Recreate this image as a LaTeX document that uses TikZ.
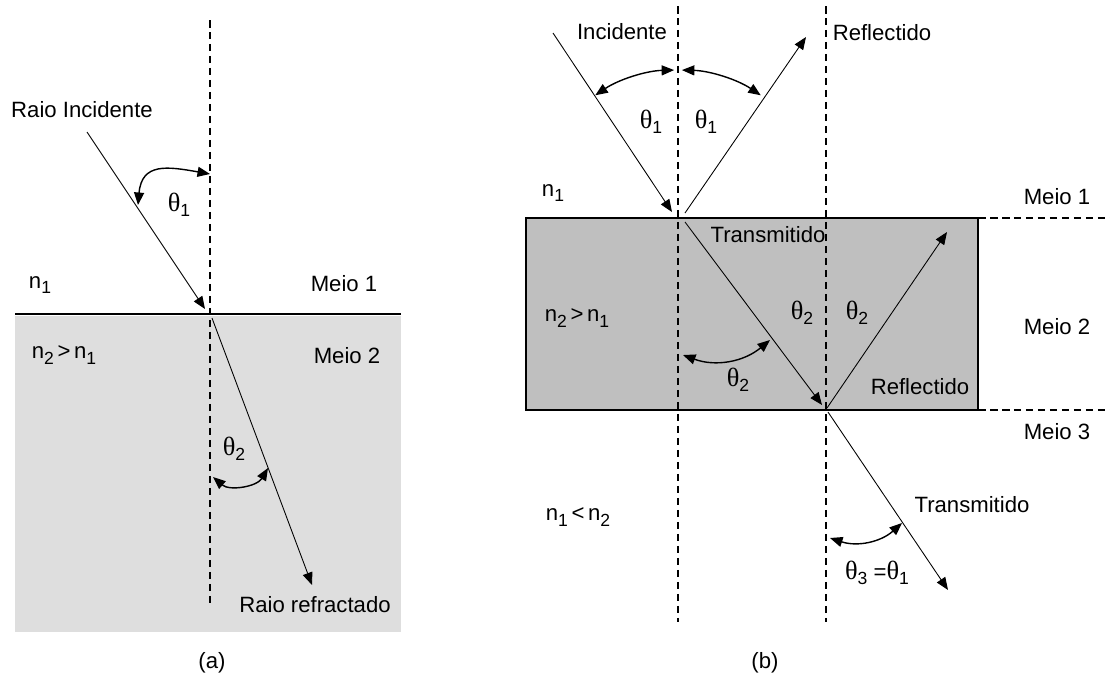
\documentclass[tikz,border=0pt]{standalone}
\usepackage{fontspec}
\setmainfont{Liberation Sans}
\newfontfamily\thfont{Liberation Serif}
\usetikzlibrary{arrows.meta}
\newcommand{\lowsub}[1]{\raisebox{-0.45ex}{\fontsize{10}{10}\selectfont #1}}
\newcommand{\thsub}[1]{{\thfont\fontsize{15}{15}\selectfont θ}\lowsub{#1}}
\newcommand{\nsub}[1]{n\lowsub{#1}}

\begin{document}
\begin{tikzpicture}[x=0.02cm, y=0.02cm, every node/.style={font=\fontsize{12.6}{14}\selectfont, inner sep=1pt}, >={Triangle[length=2.5mm,width=2mm]}, ray/.style={->, line width=0.5pt}, ang/.style={<->, line width=0.8pt}, normline/.style={line width=0.9pt, dash pattern=on 1.5mm off 0.9mm}]
	\useasboundingbox (0,0) rectangle (1110,-680);
	% (a) um so interface
	\fill[black!13] (15,-316) rectangle (401,-632);
	\draw[line width=0.8pt] (15,-314) -- (401,-314);
	\coordinate (aN1) at (210,-20);
	\coordinate (aN2) at (210,-607);
	\coordinate (aI) at (87,-132);
	\coordinate (aO) at (205,-309);
	\coordinate (aR0) at (212,-318);
	\coordinate (aR) at (312,-585);
	\coordinate (aT1a) at (138,-205);
	\coordinate (aT1b) at (210,-174);
	\coordinate (aT2a) at (213,-477);
	\coordinate (aT2b) at (268,-468);
	\draw[normline] (aN1) -- (aN2);
	\draw[ray] (aI) -- (aO);
	\draw[ray] (aR0) -- (aR);
	\draw[ang] (aT1a) to[out=85, in=170, looseness=1.4] (aT1b);
	\draw[ang] (aT2a) to[bend right=50] (aT2b);
	\node (aInc) at (82,-110) {Raio Incidente};
	\node (aTh1) at (179,-205) {\thsub{1}};
	\node (aN1t) at (40,-285) {\nsub{1}};
	\node (aM1) at (344,-284) {Meio 1};
	\node (aN2t) at (64,-355) {\nsub{2}\,>\,\nsub{1}};
	\node (aM2) at (347,-356) {Meio 2};
	\node (aTh2) at (234,-449) {\thsub{2}};
	\node (aRef) at (315,-605) {Raio refractado};
	\node (aCap) at (212,-663) {(a)};
	% (b) lamina entre dois meios
	\draw[fill=black!25, line width=0.9pt] (526,-218) rectangle (978,-410);
	\draw[normline] (978,-218) -- (1110,-218);
	\draw[normline] (978,-410) -- (1110,-410);
	\coordinate (bL1) at (678,-6);
	\coordinate (bL2) at (678,-622);
	\coordinate (bR1) at (826,-6);
	\coordinate (bR2) at (826,-622);
	\coordinate (bH) at (678,-218);
	\coordinate (bI) at (553,-33);
	\coordinate (bIo) at (672,-212);
	\coordinate (bF0) at (685,-213);
	\coordinate (bF) at (806,-37);
	\coordinate (bT0) at (685,-222);
	\coordinate (bT) at (822,-405);
	\coordinate (bU0) at (827,-408);
	\coordinate (bU) at (947,-232);
	\coordinate (bS0) at (828,-412);
	\coordinate (bS) at (948,-590);
	\coordinate (bT2a) at (683,-355);
	\coordinate (bT2b) at (770,-340);
	\coordinate (bT3a) at (830,-538);
	\coordinate (bT3b) at (902,-523);
	\draw[normline] (bL1) -- (bL2);
	\draw[normline] (bR1) -- (bR2);
	\draw[ray] (bI) -- (bIo);
	\draw[ray] (bF0) -- (bF);
	\draw[ray] (bT0) -- (bT);
	\draw[ray] (bU0) -- (bU);
	\draw[ray] (bS0) -- (bS);
	\draw[ang] (bH) ++(124:148) arc[start angle=124, end angle=91.5, radius=148];
	\draw[ang] (bH) ++(88.5:148) arc[start angle=88.5, end angle=56, radius=148];
	\draw[ang] (bT2a) to[bend right=30] (bT2b);
	\draw[ang] (bT3a) to[bend right=30] (bT3b);
	\node (bInc) at (622,-32) {Incidente};
	\node (bRef) at (882,-33) {Reflectido};
	\node (bTh1a) at (651,-122) {\thsub{1}};
	\node (bTh1b) at (706,-122) {\thsub{1}};
	\node (bN1t) at (553,-193) {\nsub{1}};
	\node (bTra) at (768,-235) {Transmitido};
	\node (bTh2a) at (802,-313) {\thsub{2}};
	\node (bTh2b) at (857,-313) {\thsub{2}};
	\node (bN2t) at (577,-318) {\nsub{2}\,>\,\nsub{1}};
	\node (bTh2c) at (738,-380) {\thsub{2}};
	\node (bRefi) at (920,-387) {Reflectido};
	\node (bM1) at (1057,-197) {Meio 1};
	\node (bM2) at (1057,-327) {Meio 2};
	\node (bM3) at (1057,-432) {Meio 3};
	\node (bTro) at (972,-505) {Transmitido};
	\node (bTh3) at (877,-573) {\thsub{3} =\thsub{1}};
	\node (bN3t) at (578,-517) {\nsub{1}\,<\,\nsub{2}};
	\node (bCap) at (765,-663) {(b)};
\end{tikzpicture}
\end{document}
